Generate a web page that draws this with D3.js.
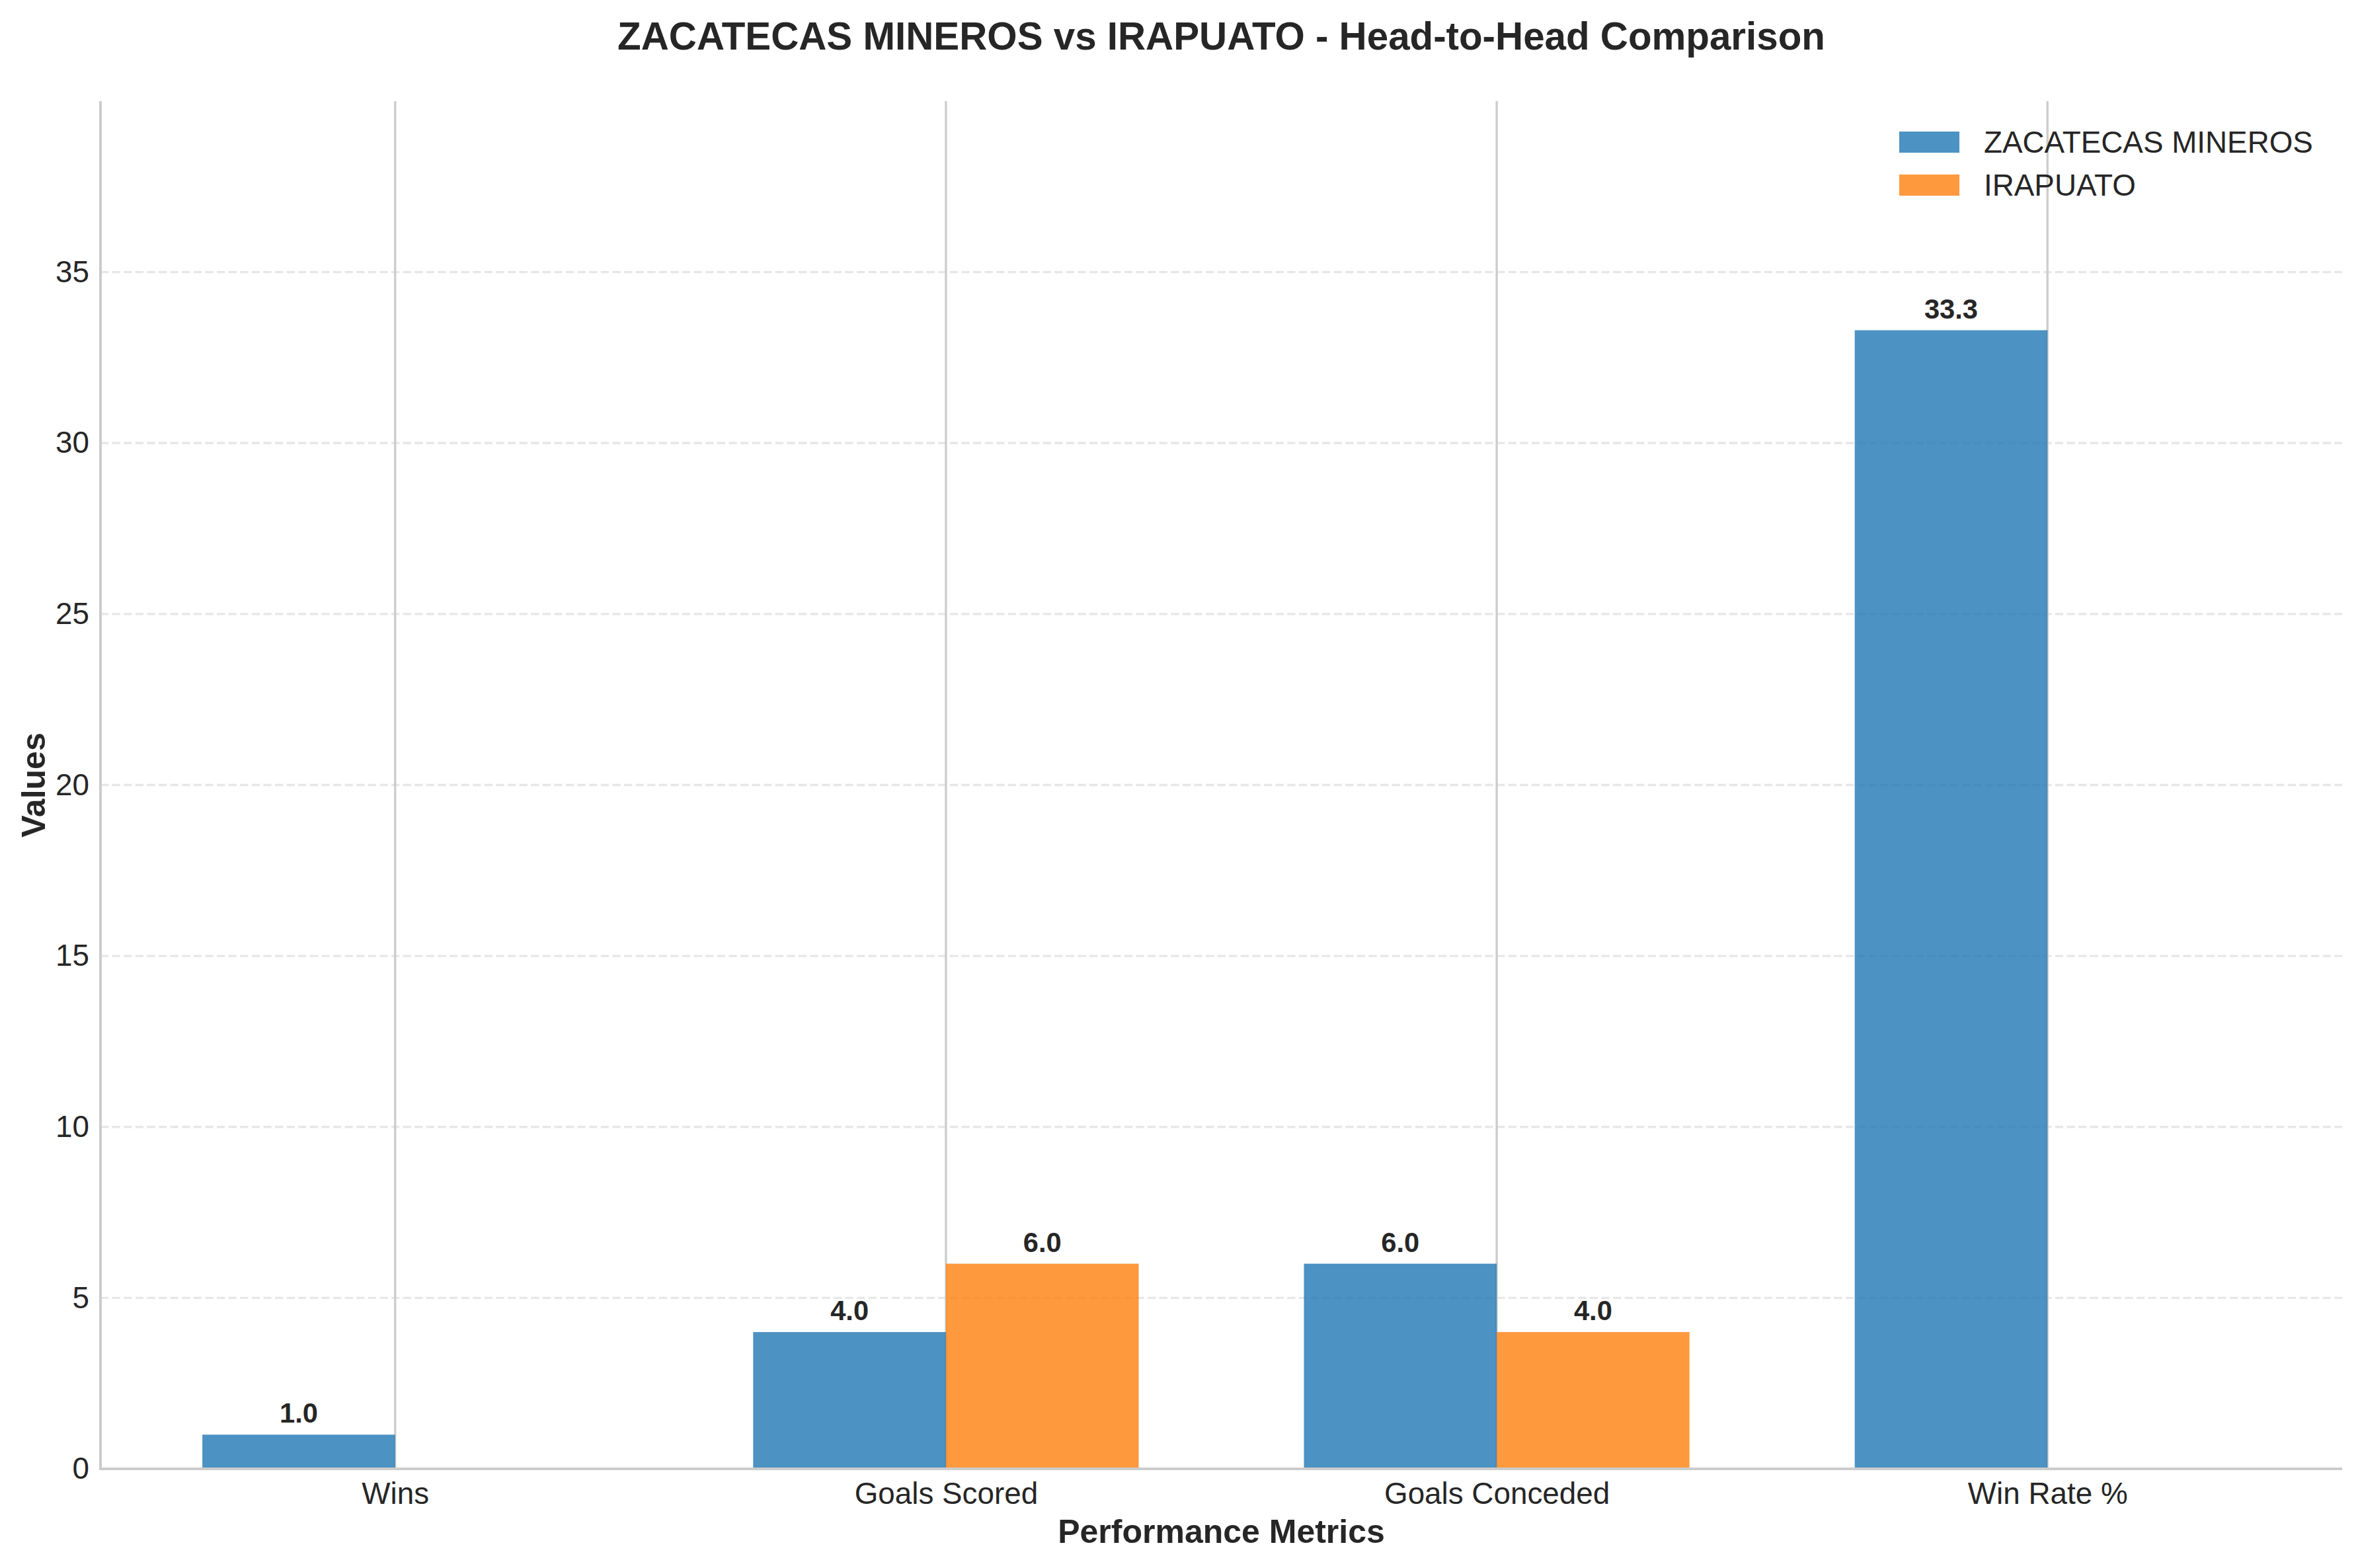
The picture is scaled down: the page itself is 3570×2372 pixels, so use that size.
<!DOCTYPE html>
<html>
<head>
<meta charset="utf-8">
<script src="https://cdn.jsdelivr.net/npm/d3@7"></script>
<style>
  body { margin: 0; background: #fff; }
  text { font-family: "Liberation Sans", Arial, sans-serif; fill: #262626; }
</style>
</head>
<body>
<svg id="chart"></svg>
<script>
var categories = ["Wins", "Goals Scored", "Goals Conceded", "Win Rate %"];
var teams = ["ZACATECAS MINEROS", "IRAPUATO"];
var zacatecasVals = [1.0, 4.0, 6.0, 33.3];
var irapuatoVals = [0.0, 6.0, 4.0, 0.0];
var yTicks = [0, 5, 10, 15, 20, 25, 30, 35];
var teamColors = ["#1f77b4", "#ff7f0e"];

var W = 3570, H = 2372;
var plotL = 152, plotR = 3543, plotT = 153, plotB = 2222;
var barW = 0.35;

var svg = d3.select("#chart").attr("width", W).attr("height", H);

var x = d3.scaleLinear().domain([-0.535, 3.535]).range([plotL, plotR]);
var y = d3.scaleLinear().domain([0, 40]).range([plotB, plotT]);

// horizontal dashed grid
svg.append("g").selectAll("line").data(yTicks.slice(1)).enter().append("line")
    .attr("x1", plotL).attr("x2", plotR)
    .attr("y1", function(d){ return y(d); }).attr("y2", function(d){ return y(d); })
    .attr("stroke", "#b0b0b0").attr("stroke-opacity", 0.3)
    .attr("stroke-width", 3.3).attr("stroke-dasharray", "12.3,5.3");

// vertical grid at categories
svg.append("g").selectAll("line").data(categories).enter().append("line")
    .attr("x1", function(d, i){ return x(i); }).attr("x2", function(d, i){ return x(i); })
    .attr("y1", plotT).attr("y2", plotB)
    .attr("stroke", "#cccccc").attr("stroke-width", 3.3);

// bars
var series = [zacatecasVals, irapuatoVals];
series.forEach(function(vals, s){
    var off = s == 0 ? -barW : 0;
    svg.append("g").selectAll("rect").data(vals).enter().append("rect")
        .attr("x", function(d, i){ return x(i + off); })
        .attr("width", x(barW) - x(0))
        .attr("y", function(d){ return y(d); })
        .attr("height", function(d){ return y(0) - y(d); })
        .attr("fill", teamColors[s]).attr("fill-opacity", 0.8);

    svg.append("g").selectAll("text").data(vals.map(function(v, i){ return [v, i]; })).enter()
        .filter(function(d){ return d[0] > 0; })
        .append("text")
        .attr("x", function(d){ return x(d[1] + off + barW / 2); })
        .attr("y", function(d){ return y(d[0]) - 18; })
        .attr("text-anchor", "middle")
        .attr("font-size", 41.7).attr("font-weight", "bold")
        .text(function(d){ return d[0].toFixed(1); });
});

// axes
var xAxis = d3.axisBottom(x).tickValues(d3.range(categories.length))
    .tickFormat(function(i){ return categories[i]; }).tickSize(0).tickPadding(20);
var gx = svg.append("g").attr("transform", "translate(0," + plotB + ")").call(xAxis);
gx.select(".domain").remove();
gx.selectAll("text").attr("font-size", 45.8).attr("font-family", null).attr("fill", "#262626");

var yAxis = d3.axisLeft(y).tickValues(yTicks).tickSize(0).tickPadding(17);
var gy = svg.append("g").attr("transform", "translate(" + plotL + ",0)").call(yAxis);
gy.select(".domain").remove();
gy.selectAll("text").attr("font-size", 45.8).attr("font-family", null).attr("fill", "#262626");

// spines
svg.append("line").attr("x1", plotL).attr("x2", plotL).attr("y1", plotT).attr("y2", plotB + 2)
    .attr("stroke", "#cccccc").attr("stroke-width", 4);
svg.append("line").attr("x1", plotL - 2).attr("x2", plotR).attr("y1", plotB).attr("y2", plotB)
    .attr("stroke", "#cccccc").attr("stroke-width", 4);

// title and labels
svg.append("text").attr("x", (plotL + plotR) / 2).attr("y", 75)
    .attr("text-anchor", "middle").attr("font-size", 58.3).attr("font-weight", "bold")
    .text("ZACATECAS MINEROS vs IRAPUATO - Head-to-Head Comparison");

svg.append("text").attr("x", (plotL + plotR) / 2).attr("y", 2334)
    .attr("text-anchor", "middle").attr("font-size", 50).attr("font-weight", "bold")
    .text("Performance Metrics");

svg.append("text").attr("transform", "translate(68," + (plotT + plotB) / 2 + ") rotate(-90)")
    .attr("text-anchor", "middle").attr("font-size", 50).attr("font-weight", "bold")
    .text("Values");

// legend
var lg = svg.append("g").attr("transform", "translate(2873,199)");
teams.forEach(function(t, i){
    lg.append("rect").attr("x", 0).attr("y", i * 65).attr("width", 91).attr("height", 32)
        .attr("fill", teamColors[i]).attr("fill-opacity", 0.8);
    lg.append("text").attr("x", 128).attr("y", i * 65 + 16).attr("dy", "0.35em")
        .attr("font-size", 45.8).text(t);
});
</script>
</body>
</html>
